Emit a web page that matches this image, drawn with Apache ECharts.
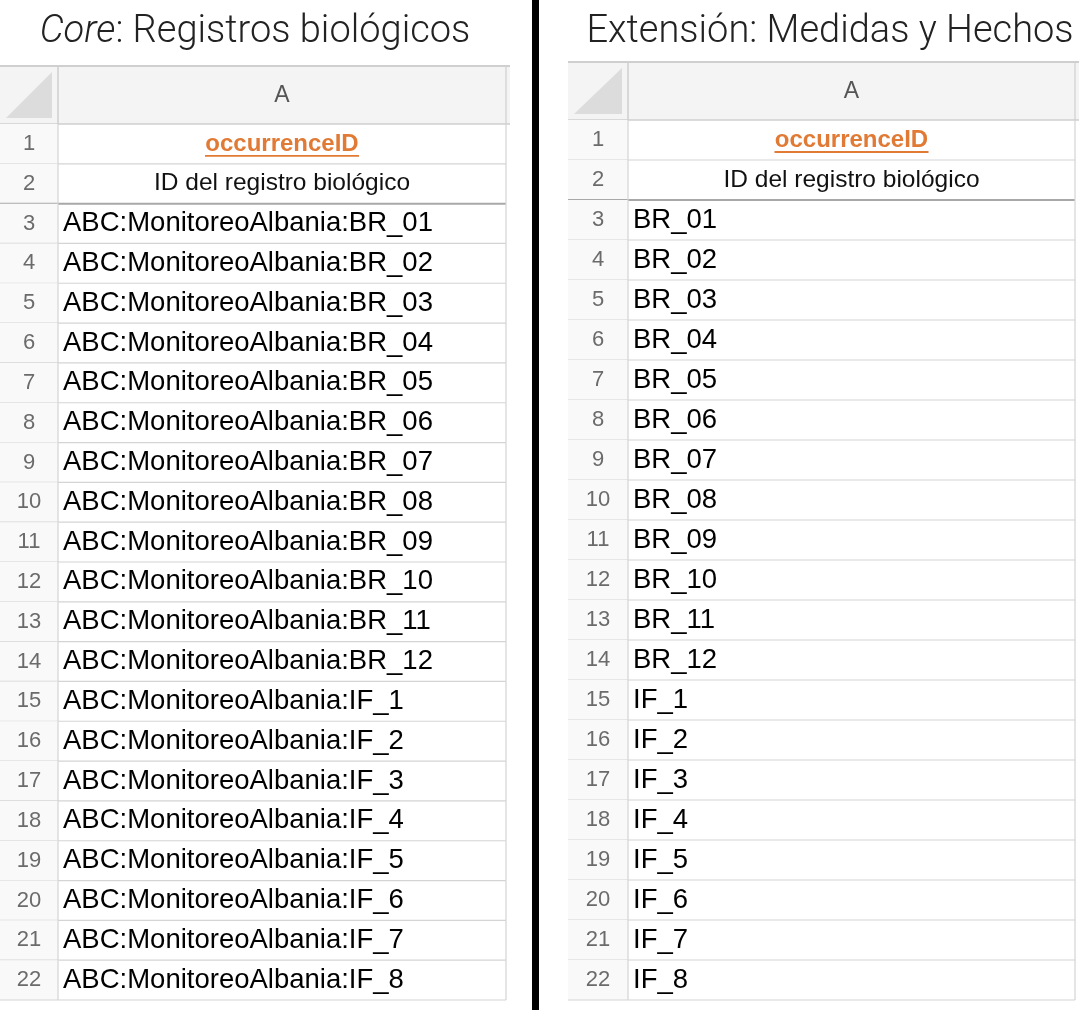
<!DOCTYPE html>
<html><head><meta charset="utf-8">
<script src="https://cdn.jsdelivr.net/npm/echarts@6/dist/echarts.min.js"></script>
<style>html,body{margin:0;background:#fff}#main{width:1080px;height:1010px}</style>
</head><body><div id="main"></div>
<script>
// row numbers and cell contents
var rowNumbers = ['1','2','3','4','5','6','7','8','9','10','11','12','13','14','15','16','17','18','19','20','21','22'];
var idSuffixes = ['BR_01','BR_02','BR_03','BR_04','BR_05','BR_06','BR_07','BR_08','BR_09','BR_10','BR_11','BR_12',
  'IF_1','IF_2','IF_3','IF_4','IF_5','IF_6','IF_7','IF_8'];
var headerTerm = 'occurrenceID';
var headerLabel = 'ID del registro biológico';
var corePrefix = 'ABC:MonitoreoAlbania:';
var columnLetter = 'A';

var coreCells = [headerTerm, headerLabel].concat(idSuffixes.map(function (s) { return corePrefix + s; }));
var extCells = [headerTerm, headerLabel].concat(idSuffixes);

var NUM_W = [58, 60];
var HEAD_H = 58;
var LINE = '#d4d4d4';
var FONT = '"Liberation Sans", Arial, sans-serif';

function makeRender(gi) {
  return function (params, api) {
    var idx = api.value(0);
    var text = api.value(1);
    var left = api.coord([0, idx])[0];
    var right = api.coord([1, idx])[0];
    var cy = api.coord([0, idx])[1];
    var h = api.size([0, 1])[1];
    var top = cy - h / 2, bottom = cy + h / 2;
    var nw = NUM_W[gi];
    var kids = [
      {type: 'rect', shape: {x: left, y: top, width: nw, height: h}, style: {fill: '#f9f9f9'}},
      {type: 'line', shape: {x1: left, y1: bottom, x2: right, y2: bottom}, style: {stroke: idx === 1 ? '#a8a8a8' : LINE, lineWidth: idx === 1 ? 2 : 1.2}},
      {type: 'line', shape: {x1: left + nw, y1: top, x2: left + nw, y2: bottom}, style: {stroke: LINE, lineWidth: 1.2}},
      {type: 'line', shape: {x1: right, y1: top, x2: right, y2: bottom}, style: {stroke: LINE, lineWidth: 1.2}},
      {type: 'text', style: {text: rowNumbers[idx], x: left + nw / 2, y: cy, align: 'center', verticalAlign: 'middle',
        fill: '#6b6b6b', font: '22px ' + FONT}}
    ];
    var mid = (left + nw + right) / 2;
    if (idx === 0) {
      kids.push({type: 'text', style: {text: text, x: mid, y: cy, align: 'center', verticalAlign: 'middle',
        fill: '#e07a35', font: 'bold 24px ' + FONT}});
      kids.push({type: 'line', shape: {x1: mid - 77, y1: cy + 12, x2: mid + 77, y2: cy + 12}, style: {stroke: '#e07a35', lineWidth: 1.8}});
    } else if (idx === 1) {
      kids.push({type: 'text', style: {text: text, x: mid, y: cy, align: 'center', verticalAlign: 'middle',
        fill: '#111', font: '24.5px ' + FONT}});
    } else {
      kids.push({type: 'text', style: {text: text, x: left + nw + 5, y: cy, align: 'left', verticalAlign: 'middle',
        fill: '#000', font: '27.5px ' + FONT}});
    }
    if (idx === 0) {
      var ht = top - HEAD_H;
      kids.unshift(
        {type: 'rect', shape: {x: left, y: ht, width: right - left + 4, height: HEAD_H}, style: {fill: '#f4f4f4'}},
        {type: 'polygon', shape: {points: [[left + nw - 6, ht + 6], [left + nw - 6, top - 6], [left + 6, top - 6]]}, style: {fill: '#dcdcdc'}},
        {type: 'line', shape: {x1: left, y1: ht, x2: right + 4, y2: ht}, style: {stroke: '#cfcfcf', lineWidth: 2}},
        {type: 'line', shape: {x1: left, y1: top, x2: right + 4, y2: top}, style: {stroke: '#cfcfcf', lineWidth: 1.5}},
        {type: 'line', shape: {x1: left + nw, y1: ht, x2: left + nw, y2: top}, style: {stroke: '#cfcfcf', lineWidth: 1.5}},
        {type: 'line', shape: {x1: right, y1: ht, x2: right, y2: top}, style: {stroke: '#cfcfcf', lineWidth: 1.2}},
        {type: 'text', style: {text: columnLetter, x: mid, y: ht + HEAD_H / 2 + 1, align: 'center', verticalAlign: 'middle',
          fill: '#555', font: '23px ' + FONT}}
      );
    }
    return {type: 'group', children: kids};
  };
}

function toData(cells) {
  return cells.map(function (t, i) { return [i, t]; });
}

var chart = echarts.init(document.getElementById('main'));
chart.setOption({
  animation: false,
  title: [
    {text: '{i|Core}: Registros biológicos', left: 250, top: 8, textAlign: 'center',
      textStyle: {fontFamily: 'Roboto', fontWeight: 300, fontSize: 38, color: '#222',
        rich: {i: {fontFamily: 'Roboto', fontStyle: 'italic', fontWeight: 300, fontSize: 38, color: '#222'}}}},
    {text: 'Extensión: Medidas y Hechos', left: 825, top: 8, textAlign: 'center',
      textStyle: {fontFamily: 'Roboto', fontWeight: 300, fontSize: 38, color: '#222'}}
  ],
  grid: [
    {left: 0, width: 506, top: 124, height: 876},
    {left: 568, width: 507, top: 120, height: 880}
  ],
  xAxis: [
    {gridIndex: 0, type: 'value', min: 0, max: 1, show: false},
    {gridIndex: 1, type: 'value', min: 0, max: 1, show: false}
  ],
  yAxis: [
    {gridIndex: 0, type: 'category', data: rowNumbers, inverse: true, show: false},
    {gridIndex: 1, type: 'category', data: rowNumbers, inverse: true, show: false}
  ],
  graphic: [{type: 'rect', shape: {x: 532, y: 0, width: 7, height: 1010}, style: {fill: '#000'}}],
  series: [
    {type: 'custom', xAxisIndex: 0, yAxisIndex: 0, renderItem: makeRender(0), data: toData(coreCells),
      encode: {x: -1, y: 0}, silent: true},
    {type: 'custom', xAxisIndex: 1, yAxisIndex: 1, renderItem: makeRender(1), data: toData(extCells),
      encode: {x: -1, y: 0}, silent: true}
  ]
});
</script></body></html>
